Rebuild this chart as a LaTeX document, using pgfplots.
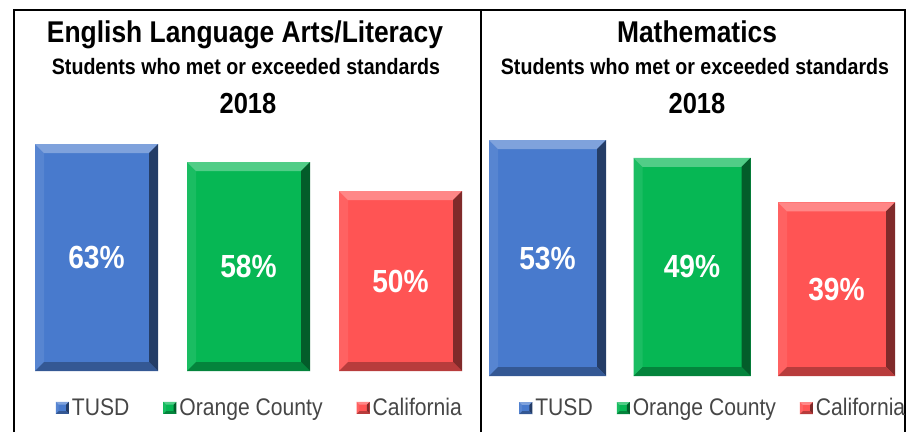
\documentclass[border=0pt]{standalone}
\usepackage{fontspec}
\setmainfont[FakeStretch=0.88]{Liberation Sans}
\usepackage{pgfplots}
\pgfplotsset{compat=1.18}
\usetikzlibrary{calc}
\definecolor{cblue}{RGB}{72,122,205}
\definecolor{cgreen}{RGB}{6,183,84}
\definecolor{cred}{RGB}{255,84,84}
\definecolor{legtext}{RGB}{70,70,70}
\def\bevw{9pt}
\newif\ifinbevel
\tikzset{
  bevel/.style={fill=#1, draw=none, path picture={%
    \ifinbevel\else
    \inbeveltrue
    \coordinate (sw) at (path picture bounding box.south west);
    \coordinate (ne) at (path picture bounding box.north east);
    \coordinate (nw) at (sw|-ne);
    \coordinate (se) at (ne|-sw);
    \fill[#1!92!white] (sw) -- (nw) -- ($(nw)+(\bevw,-\bevw)$) -- ($(sw)+(\bevw,\bevw)$) -- cycle;
    \fill[#1!70!white] (nw) -- (ne) -- ($(ne)+(-\bevw,-\bevw)$) -- ($(nw)+(\bevw,-\bevw)$) -- cycle;
    \fill[#1!50!black] (ne) -- (se) -- ($(se)+(-\bevw,\bevw)$) -- ($(ne)+(-\bevw,-\bevw)$) -- cycle;
    \fill[#1!72!black] (sw) -- (se) -- ($(se)+(-\bevw,\bevw)$) -- ($(sw)+(\bevw,\bevw)$) -- cycle;
    \fi
  }},
  pct/.style={font=\bfseries\fontsize{32}{33}\selectfont, text=white},
}
\pgfplotsset{
  panel/.style={
    scale only axis, axis lines=none, clip=false,
    xmin=-0.5, xmax=2.5, ymin=0, ymax=80,
    legend columns=3,
    legend style={draw=none, fill=none, font=\fontsize{24}{26}\selectfont\color{legtext},
      anchor=center,
      /tikz/every odd column/.append style={column sep=1pt},
      legend cell align=left},
    legend image code/.code={\def\bevw{2.8pt}\path[##1] (0pt,-6pt) rectangle (13pt,6pt);},
  },
}
\begin{document}
\begin{tikzpicture}[x=1pt,y=1pt]
\useasboundingbox (0,0) rectangle (906,432);
% frame
\draw[line width=2pt] (14,0) -- (14,422) -- (905,422) -- (905,0);
\draw[line width=2pt] (481,0) -- (481,422);
% titles
\node[anchor=base, font=\bfseries\fontsize{30}{31}\selectfont] at (245,389) {English Language Arts/Literacy};
\node[anchor=base, font=\bfseries\fontsize{22.3}{24}\selectfont] at (246,357) {Students who met or exceeded standards};
\node[anchor=base, font=\bfseries\fontsize{29}{30}\selectfont] at (248,318) {2018};
\node[anchor=base, font=\bfseries\fontsize{30}{31}\selectfont] at (697,389) {Mathematics};
\node[anchor=base, font=\bfseries\fontsize{22.3}{24}\selectfont] at (695,357) {Students who met or exceeded standards};
\node[anchor=base, font=\bfseries\fontsize{29}{30}\selectfont] at (697,318) {2018};

\begin{axis}[panel, at={(96.5pt,61pt)}, anchor=origin, width=456pt, height=288pt,
  legend style={at={(0.525,-0.128)}, /tikz/every even column/.append style={column sep=32pt}}]
\addplot[ybar, bar width=123pt, bar shift=0pt, bevel=cblue] coordinates {(0,63)};
\addplot[ybar, bar width=123pt, bar shift=0pt, bevel=cgreen] coordinates {(1,58)};
\addplot[ybar, bar width=123pt, bar shift=0pt, bevel=cred] coordinates {(2,50)};
\legend{TUSD, Orange County, California}
\node[pct] at (axis cs:0,31.5) {63\%};
\node[pct] at (axis cs:1,29) {58\%};
\node[pct] at (axis cs:2,25) {50\%};
\end{axis}

\begin{axis}[panel, at={(547.5pt,56pt)}, anchor=origin, width=433.5pt, height=356pt,
  legend style={at={(0.549,-0.09)}, /tikz/every even column/.append style={column sep=22pt}}]
\addplot[ybar, bar width=117pt, bar shift=0pt, bevel=cblue] coordinates {(0,53)};
\addplot[ybar, bar width=117pt, bar shift=0pt, bevel=cgreen] coordinates {(1,49)};
\addplot[ybar, bar width=117pt, bar shift=0pt, bevel=cred] coordinates {(2,39)};
\legend{TUSD, Orange County, California}
\node[pct] at (axis cs:0,26.5) {53\%};
\node[pct] at (axis cs:1,24.5) {49\%};
\node[pct] at (axis cs:2,19.5) {39\%};
\end{axis}
\end{tikzpicture}
\end{document}
